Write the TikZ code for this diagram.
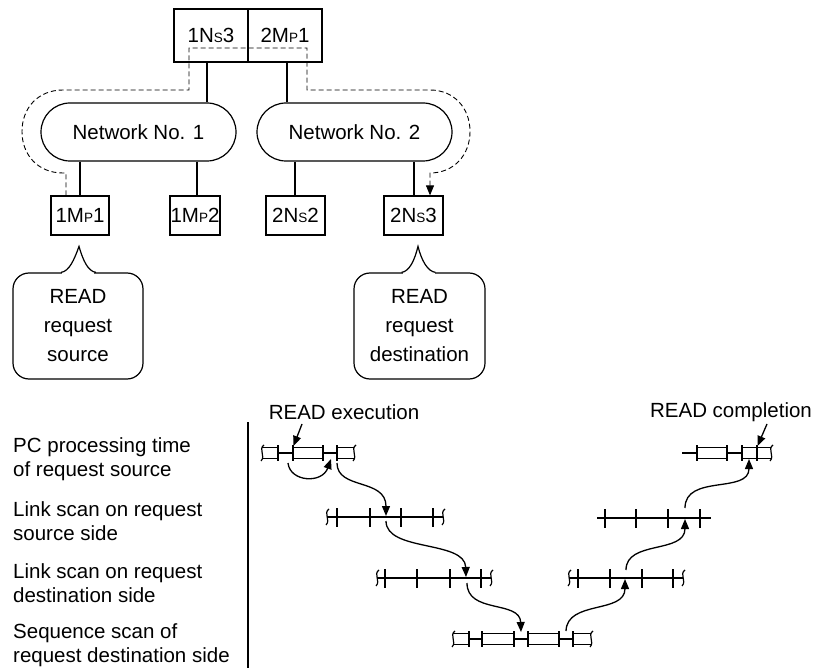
\documentclass[tikz,border=0pt]{standalone}
\usepackage{fontspec}
\setmainfont{Liberation Sans}
\usetikzlibrary{arrows.meta}
\newcommand{\smc}[1]{{\fontsize{13.5}{13.5}\selectfont #1}}
\newcommand{\sqg}[2]{\draw[line width=1.2pt] (#1+2,#2-8) .. controls (#1-4,#2-4) and (#1+4,#2+3) .. (#1-1,#2+8);}
\begin{document}
\begin{tikzpicture}[x=1pt,y=-1pt,
  font=\fontsize{20.5}{24}\selectfont,
  box/.style={draw, line width=1.2pt, inner sep=0pt, minimum height=39pt},
  topbox/.style={draw, line width=1.2pt, inner sep=0pt, minimum width=74pt, minimum height=53pt},
  net/.style={draw, line width=1.2pt, minimum width=195pt, minimum height=58pt, rounded corners=29pt},
  conn/.style={line width=1.8pt},
  route/.style={line width=0.9pt, dash pattern=on 5pt off 3pt},
  arr/.style={-{Triangle[length=10pt,width=8pt]}},
  bubble/.style={draw, line width=1.2pt, rounded corners=16pt, minimum height=106pt, align=center, font=\fontsize{20.5}{29}\selectfont},
  lbl/.style={anchor=west, align=left, inner sep=0pt, font=\fontsize{20.5}{23.5}\selectfont},
  tl/.style={line width=2pt},
  dbl/.style={line width=1.6pt},
  curv/.style={line width=1.3pt, -{Triangle[length=10pt,width=8pt]}}
]
\useasboundingbox (0,0) rectangle (817,668);

% ---- network diagram ----
\node[topbox] (t1) at (211,35.5) {1N\smc{S}3};
\node[topbox] (t2) at (285,35.5) {2M\smc{P}1};
\node[net] (net1) at (138.5,132) {Network No. 1};
\node[net] (net2) at (354.5,132) {Network No. 2};
\node[box, minimum width=58pt] (m11) at (80,215.5) {1M\smc{P}1};
\node[box, minimum width=50pt] (m12) at (195,215.5) {1M\smc{P}2};
\node[box, minimum width=59pt] (n22) at (295.5,215.5) {2N\smc{S}2};
\node[box, minimum width=59pt] (n23) at (413.5,215.5) {2N\smc{S}3};

\draw[conn] ([xshift=-4pt]t1.south) -- ([xshift=-4pt]t1.south |- net1.north);
\draw[conn] ([xshift=2pt]t2.south) -- ([xshift=2pt]t2.south |- net2.north);
\draw[conn] (m11.north |- net1.south) -- (m11.north);
\draw[conn] ([xshift=2pt]m12.north |- net1.south) -- ([xshift=2pt]m12.north);
\draw[conn] ([xshift=-0.5pt]n22.north |- net2.south) -- ([xshift=-0.5pt]n22.north);
\draw[conn] ([xshift=0.5pt]n23.north |- net2.south) -- ([xshift=0.5pt]n23.north);

\draw[route, arr] ([xshift=-14pt]m11.north) -- (66,173) -- (63,173)
  .. controls (38,173) and (22,155) .. (22,131.5)
  .. controls (22,108) and (38,90) .. (63,90)
  -- (189,90) -- (189,48) -- (307,48) -- (307,90) -- (430,90)
  .. controls (454,90) and (470,108) .. (470,131.5)
  .. controls (470,155) and (454,173) .. (430,173)
  -- ([xshift=16.5pt]n23.north);

% ---- bubbles ----
\node[bubble, minimum width=130pt] (b1) at (78,326) {READ\\request\\source};
\node[bubble, minimum width=131pt] (b2) at (419.5,326) {READ\\request\\destination};
\fill[white] ([xshift=-16pt,yshift=-1.2pt]b1.north) rectangle ([xshift=16pt,yshift=1.2pt]b1.north);
\draw[line width=1.2pt] ([xshift=-17pt]b1.north) .. controls ([xshift=-9pt,yshift=1pt]b1.north) and ([xshift=-4pt,yshift=12pt]b1.north) .. ([xshift=1pt,yshift=26pt]b1.north)
  .. controls ([xshift=5pt,yshift=12pt]b1.north) and ([xshift=10pt,yshift=1pt]b1.north) .. ([xshift=18pt]b1.north);
\fill[white] ([xshift=-17pt,yshift=-1.2pt]b2.north) rectangle ([xshift=15pt,yshift=1.2pt]b2.north);
\draw[line width=1.2pt] ([xshift=-18pt]b2.north) .. controls ([xshift=-10pt,yshift=1pt]b2.north) and ([xshift=-5pt,yshift=12pt]b2.north) .. ([xshift=-1.5pt,yshift=26pt]b2.north)
  .. controls ([xshift=2pt,yshift=12pt]b2.north) and ([xshift=8pt,yshift=1pt]b2.north) .. ([xshift=16pt]b2.north);

% ---- timing chart ----
\node[lbl] (l1) at (13,459) {PC processing time\\of request source};
\node[lbl] (l2) at (13,521) {Link scan on request\\source side};
\node[lbl] (l3) at (13,583) {Link scan on request\\destination side};
\node[lbl] (l4) at (13,645) {Sequence scan of\\request destination side};
\coordinate (vt) at (248,422);
\coordinate (vb) at (248,668);
\draw[line width=2pt] (vt) -- (vb);

\node (rx) at (344,412) {READ execution};
\node (rc) at (731,412) {READ completion};

% PC bar left (y=453)
\foreach \a/\b in {262/278, 293/323, 337/354} \draw[dbl] (\a,447.5) -- (\b,447.5) (\a,458.5) -- (\b,458.5);
\foreach \a/\b in {278/293, 323/337} \draw[tl] (\a,453) -- (\b,453);
\foreach \x in {278,293,323,337} \draw[tl] (\x,445) -- (\x,461);
\sqg{262}{453}\sqg{354}{453}

% PC bar right (y=453)
\draw[tl] (682,453) -- (697,453);
\foreach \a/\b in {697/727, 742/756} \draw[dbl] (\a,447.5) -- (\b,447.5) (\a,458.5) -- (\b,458.5);
\draw[dbl] (757,447.5) -- (771,447.5) (757,458.5) -- (771,458.5);
\draw[tl] (727,453) -- (742,453);
\foreach \x in {697,727,742,757} \draw[tl] (\x,445) -- (\x,461);
\sqg{771}{453}

% link scan source left (y=517)
\draw[tl] (327,517) -- (443,517);
\foreach \x in {337,370,401,433} \draw[tl] (\x,508) -- (\x,527);
\sqg{327}{517}\sqg{443}{517}
% link scan source right (y=518)
\draw[tl] (597,518) -- (711,518);
\foreach \x in {605,636,668,700} \draw[tl] (\x,509) -- (\x,528);

% link scan destination left (y=578)
\draw[tl] (377,578) -- (491,578);
\foreach \x in {385,417,450,481} \draw[tl] (\x,569) -- (\x,588);
\sqg{377}{578}\sqg{491}{578}
% link scan destination right
\draw[tl] (569,578) -- (683,578);
\foreach \x in {578,610,642,673} \draw[tl] (\x,569) -- (\x,588);
\sqg{569}{578}\sqg{683}{578}

% sequence scan (y=639)
\foreach \a/\b in {453/469, 482/514, 528/559, 573/591} \draw[dbl] (\a,633.5) -- (\b,633.5) (\a,644.5) -- (\b,644.5);
\foreach \a/\b in {469/482, 514/528, 559/573} \draw[tl] (\a,639) -- (\b,639);
\foreach \x in {469,482,514,528,559,573} \draw[tl] (\x,631) -- (\x,647);
\sqg{453}{639}\sqg{591}{639}

% arrows
\coordinate (ex) at (293.5,446);
\coordinate (cx) at (757.5,446);
\draw[line width=1.3pt, arr] (302,424) -- (ex);
\draw[line width=1.3pt, arr] (767,424) -- (cx);

\coordinate (p1) at (288,463); \coordinate (p2) at (331,459);
\coordinate (p3) at (337,463); \coordinate (p4) at (386,516);
\coordinate (p5) at (386,521); \coordinate (p6) at (466,577);
\coordinate (p7) at (467,583); \coordinate (p8) at (521,632);
\coordinate (p9) at (566,631); \coordinate (p10) at (625,579);
\coordinate (p11) at (626,570); \coordinate (p12) at (685,519);
\coordinate (p13) at (685,508); \coordinate (p14) at (749,459);
\draw[curv] (p1) .. controls (290,482) and (322,484) .. (p2);
\draw[curv] (p3) .. controls (337,490) and (386,478) .. (p4);
\draw[curv] (p5) .. controls (386,552) and (465,540) .. (p6);
\draw[curv] (p7) .. controls (467,614) and (520,600) .. (p8);
\draw[curv] (p9) .. controls (567,600) and (625,614) .. (p10);
\draw[curv] (p11) .. controls (626,540) and (685,554) .. (p12);
\draw[curv] (p13) .. controls (685,474) and (749,494) .. (p14);
\end{tikzpicture}
\end{document}
